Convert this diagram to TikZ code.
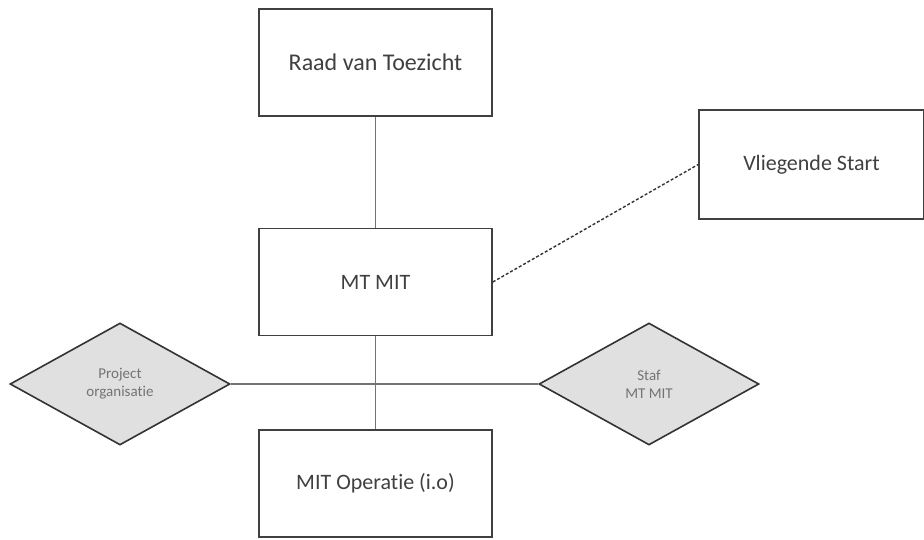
\documentclass[tikz,border=0pt]{standalone}
\usepackage{fontspec}
\setmainfont[RawFeature=-liga]{Carlito}
\usetikzlibrary{shapes.geometric}
\begin{document}
\begin{tikzpicture}[x=1pt,y=-1pt,
  box/.style={draw=black!75,line width=1.6pt,fill=white,minimum width=233pt,minimum height=107pt,inner sep=0pt,text=black!75,font=\fontsize{22}{26}\selectfont},
  dia/.style={draw=black!80,line width=1.6pt,fill=black!12,diamond,aspect=1.8,minimum width=220pt,minimum height=122pt,inner sep=0pt,text=black!55,align=center,font=\fontsize{15}{18}\selectfont},
  conn/.style={draw=black!55,line width=1.2pt},
  dconn/.style={draw=black!80,line width=1.4pt,dash pattern=on 3pt off 2pt}]
\useasboundingbox (0,0) rectangle (924,539);
\node[box,font=\fontsize{24}{28}\selectfont] (raad) at (375.5,62.5) {Raad van Toezicht};
\node[box] (mt) at (375.5,282) {MT MIT};
\node[box] (op) at (375.5,483.5) {MIT Operatie (i.o)};
\node[box,minimum width=225pt,minimum height=109pt] (vs) at (811.5,164.5) {Vliegende Start};
\node[dia] (po) at (120,384) {Project\\organisatie};
\node[dia] (staf) at (649,384) {Staf\\MT MIT};
\draw[conn] (raad.south) -- (mt.north);
\draw[conn] (po.east) -- (staf.west);
\draw[conn] (mt.south) -- (op.north);
\draw[dconn] (mt.east) -- (vs.west);
\end{tikzpicture}
\end{document}
